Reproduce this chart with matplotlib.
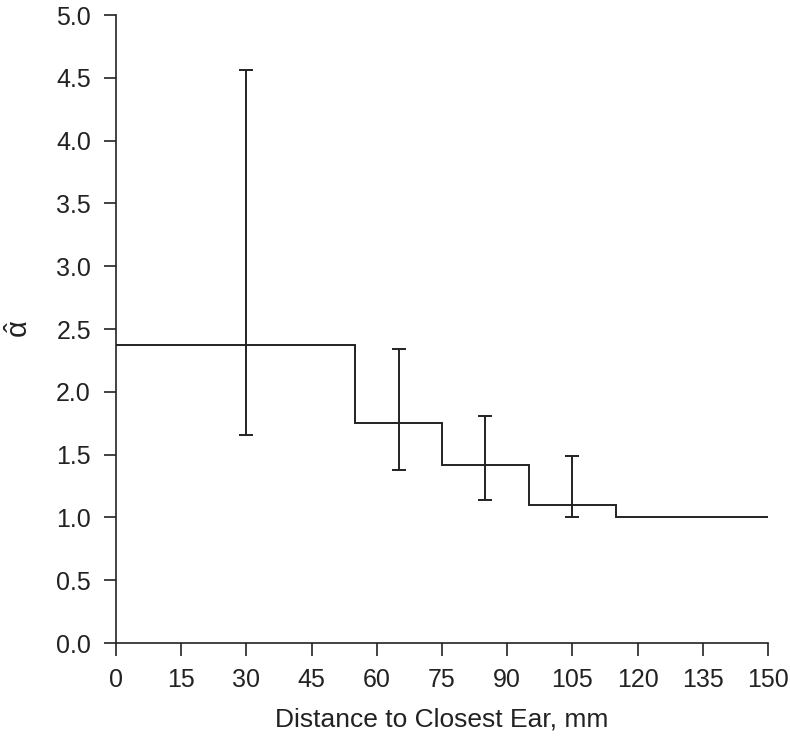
import numpy as np
import matplotlib
matplotlib.use("Agg")
import matplotlib.pyplot as plt

plt.rcParams['font.family'] = ['Liberation Sans', 'DejaVu Sans']
plt.rcParams['mathtext.fontset'] = 'custom'
plt.rcParams['mathtext.rm'] = 'Liberation Sans'
plt.rcParams['mathtext.it'] = 'Liberation Sans'

# step boundaries (mm) and alpha-hat level in each bin
edges = [0, 55, 75, 95, 115, 150]
levels = [2.37, 1.75, 1.42, 1.10, 1.00]

# error bars
err_x = [30, 65, 85, 105]
err_lo = [1.66, 1.38, 1.14, 1.00]
err_hi = [4.56, 2.34, 1.81, 1.49]

xticks = list(range(0, 151, 15))
yticks = np.arange(0, 5.01, 0.5)

fig = plt.figure(figsize=(7.9, 7.39), dpi=100)
ax = fig.add_axes([0.1468, 0.1299, 0.9722 - 0.1468, 0.9797 - 0.1299])

col = '#222222'
ax.stairs(levels, edges, baseline=None, color=col, lw=1.4, clip_on=False)

for x, lo, hi in zip(err_x, err_lo, err_hi):
    ax.errorbar([x], [(lo + hi) / 2], yerr=[[(hi - lo) / 2], [(hi - lo) / 2]],
                fmt='none', ecolor=col, elinewidth=1.4, capsize=5, capthick=1.4)

ax.set_xlim(0, 150)
ax.set_ylim(0, 5)
ax.set_xticks(xticks)
ax.set_xticklabels([str(t) for t in xticks])
ax.set_yticks(yticks)
ax.set_yticklabels([f"{t:.1f}" for t in yticks])

for s in ['top', 'right']:
    ax.spines[s].set_visible(False)
for s in ['left', 'bottom']:
    ax.spines[s].set_linewidth(1.2)
    ax.spines[s].set_color(col)

ax.tick_params(axis='both', direction='out', length=9, width=1.2, color=col,
               labelsize=18, labelcolor=col)
ax.tick_params(axis='x', pad=9)
ax.tick_params(axis='y', pad=9)

ax.set_xlabel('Distance to Closest Ear, mm', fontsize=19, color=col, labelpad=11)
ax.set_ylabel(r'$\hat{\alpha}$', fontsize=21, color=col, labelpad=16)

fig.savefig('out.png', dpi=100)
